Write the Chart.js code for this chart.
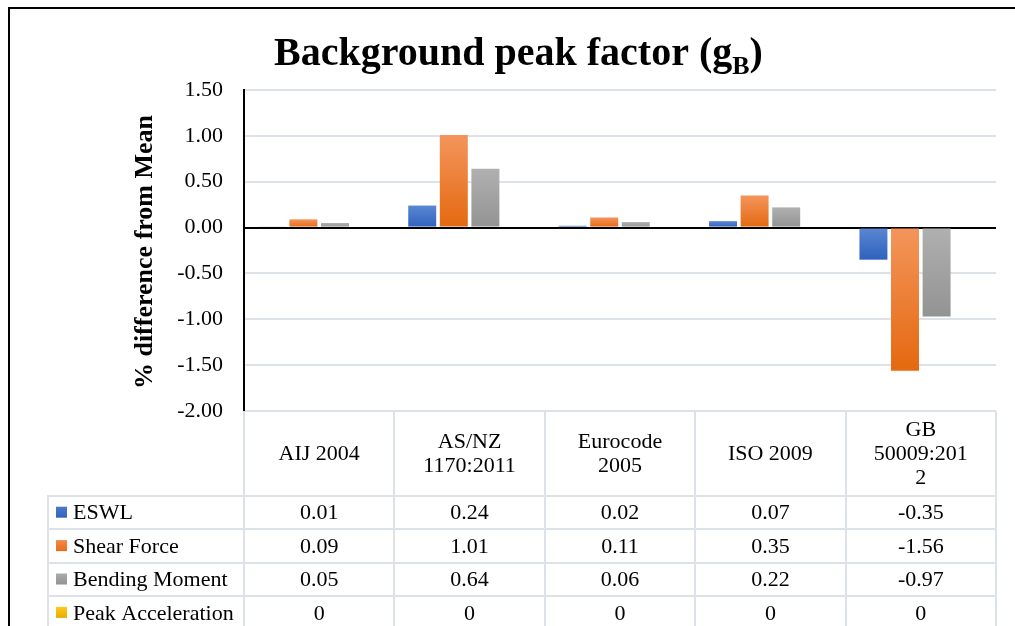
<!DOCTYPE html>
<html>
<head>
<meta charset="utf-8">
<script src="https://cdn.jsdelivr.net/npm/chart.js@4/dist/chart.umd.min.js"></script>
<style>
  html, body { margin: 0; padding: 0; background: #fff; overflow: hidden; }
  canvas { display: block; }
</style>
</head>
<body>
<canvas id="chart" width="1015" height="626"></canvas>
<script>
// Categories (multi-line header labels of the data table)
const categories = [
  ['AIJ 2004'],
  ['AS/NZ', '1170:2011'],
  ['Eurocode', '2005'],
  ['ISO 2009'],
  ['GB', '50009:201', '2']
];

// Series values: % difference from mean
const eswl             = [0.01, 0.24, 0.02, 0.07, -0.35];
const shearForce       = [0.09, 1.01, 0.11, 0.35, -1.56];
const bendingMoment    = [0.05, 0.64, 0.06, 0.22, -0.97];
const peakAcceleration = [0, 0, 0, 0, 0];

// Value axis ticks
const yTicks = [1.5, 1.0, 0.5, 0, -0.5, -1.0, -1.5, -2.0];

const SERIF = "'Liberation Serif', 'Times New Roman', serif";
const GRID = '#dde1e8';

// Vertical gradient per bar: lighter at the top edge, darker at the bottom edge
function barFill(top, bottom) {
  return (c) => {
    const chart = c.chart;
    const y = chart.scales && chart.scales.y;
    if (!y || c.type !== 'data') return bottom;
    const v = c.raw;
    const p1 = y.getPixelForValue(Math.max(v, 0));
    const p2 = y.getPixelForValue(Math.min(v, 0));
    if (!isFinite(p1) || !isFinite(p2) || Math.abs(p2 - p1) < 1) return bottom;
    const g = chart.ctx.createLinearGradient(0, p1, 0, p2);
    g.addColorStop(0, top);
    g.addColorStop(1, bottom);
    return g;
  };
}

const series = [
  { label: 'ESWL',              data: eswl,             top: '#5b87d3', bottom: '#2f62be', key: ['#4a78cc', '#3263bd'] },
  { label: 'Shear Force',       data: shearForce,       top: '#f4955c', bottom: '#e4690f', key: ['#f4894a', '#e86d1a'] },
  { label: 'Bending Moment',    data: bendingMoment,    top: '#b0b0b0', bottom: '#939393', key: ['#ababab', '#939393'] },
  { label: 'Peak Acceleration', data: peakAcceleration, top: '#ffc81a', bottom: '#e6ad00', key: ['#ffc91c', '#e8ac00'] }
];

function fmt(v) {
  return v === 0 ? '0' : v.toFixed(2);
}

// Outer frame, chart title and rotated value-axis title
const decorations = {
  id: 'decorations',
  beforeDraw(chart) {
    const ctx = chart.ctx;
    ctx.save();
    ctx.fillStyle = '#fff';
    ctx.fillRect(0, 0, chart.width, chart.height);
    ctx.restore();
  },
  afterDraw(chart) {
    const ctx = chart.ctx;
    ctx.save();
    // frame
    ctx.strokeStyle = '#000';
    ctx.lineWidth = 2;
    ctx.strokeRect(9, 8, chart.width + 20, chart.height + 20);

    // title with subscript
    const main = 'Background peak factor (g';
    const sub = 'B';
    const close = ')';
    ctx.fillStyle = '#000';
    ctx.textBaseline = 'alphabetic';
    ctx.textAlign = 'left';
    const fMain = 'bold 40px ' + SERIF;
    const fSub = 'bold 26px ' + SERIF;
    ctx.font = fMain;
    const wMain = ctx.measureText(main).width;
    const wClose = ctx.measureText(close).width;
    ctx.font = fSub;
    const wSub = ctx.measureText(sub).width;
    const total = wMain + wSub + wClose;
    let x = 518.5 - total / 2;
    const base = 65;
    ctx.font = fMain;
    ctx.fillText(main, x, base);
    x += wMain;
    ctx.font = fSub;
    ctx.fillText(sub, x, base + 9);
    x += wSub;
    ctx.font = fMain;
    ctx.fillText(close, x, base);

    // value-axis title
    ctx.translate(145, 252);
    ctx.rotate(-Math.PI / 2);
    ctx.font = 'bold 26px ' + SERIF;
    ctx.textAlign = 'center';
    ctx.textBaseline = 'middle';
    ctx.fillText('% difference from Mean', 0, 0);
    ctx.restore();
  }
};

// Data table below the plot: category headers, legend keys and values
const dataTable = {
  id: 'dataTable',
  afterDraw(chart) {
    const ctx = chart.ctx;
    const ca = chart.chartArea;
    const xs = chart.scales.x;
    const n = categories.length;
    const colW = (ca.right - ca.left) / n;
    const headTop = ca.bottom;
    const headBottom = 496;
    const rowH = 33.4;
    const legendLeft = 48;
    const bottom = chart.height + 5;

    ctx.save();
    ctx.strokeStyle = GRID;
    ctx.lineWidth = 2;
    ctx.beginPath();
    for (let k = 0; k <= n; k++) {
      const vx = Math.round(ca.left + k * colW);
      ctx.moveTo(vx, headTop);
      ctx.lineTo(vx, bottom);
    }
    ctx.moveTo(legendLeft, headBottom);
    ctx.lineTo(legendLeft, bottom);
    for (let r = 0; r < series.length; r++) {
      const hy = Math.round(headBottom + r * rowH);
      ctx.moveTo(legendLeft - 1, hy);
      ctx.lineTo(ca.right + 1, hy);
    }
    ctx.stroke();

    ctx.fillStyle = '#000';
    ctx.font = '22px ' + SERIF;
    ctx.textAlign = 'center';
    ctx.textBaseline = 'middle';

    // category headers
    const headMid = (headTop + headBottom) / 2;
    const lh = 24;
    categories.forEach((lines, i) => {
      const cx = xs.getPixelForValue(i);
      const y0 = headMid - (lines.length - 1) * lh / 2;
      lines.forEach((t, j) => ctx.fillText(t, cx, y0 + j * lh + 1));
    });

    // rows
    series.forEach((s, r) => {
      const cy = headBottom + r * rowH + rowH / 2;
      // legend key
      const g = ctx.createLinearGradient(0, cy - 6, 0, cy + 5);
      g.addColorStop(0, s.key[0]);
      g.addColorStop(1, s.key[1]);
      ctx.fillStyle = g;
      ctx.fillRect(56, cy - 6, 11, 11);
      ctx.fillStyle = '#000';
      ctx.textAlign = 'left';
      ctx.fillText(s.label, 73, cy + 1);
      ctx.textAlign = 'center';
      s.data.forEach((v, i) => {
        ctx.fillText(fmt(v), xs.getPixelForValue(i), cy + 1);
      });
    });
    ctx.restore();
  }
};

new Chart(document.getElementById('chart'), {
  type: 'bar',
  data: {
    labels: categories,
    datasets: series.map(s => ({
      label: s.label,
      data: s.data,
      backgroundColor: barFill(s.top, s.bottom),
      borderWidth: 0,
      categoryPercentage: 0.84,
      barPercentage: 0.886
    }))
  },
  options: {
    responsive: false,
    devicePixelRatio: 1,
    animation: false,
    layout: { padding: { top: 90, right: 19, bottom: 215, left: 0 } },
    plugins: {
      legend: { display: false },
      title: { display: false },
      tooltip: { enabled: false }
    },
    scales: {
      x: { display: false },
      y: {
        min: -2,
        max: 1.5,
        afterFit(scale) { scale.width = 244; },
        afterBuildTicks(scale) { scale.ticks = yTicks.map(v => ({ value: v })); },
        ticks: {
          padding: 21,
          color: '#000',
          font: { family: SERIF, size: 22 },
          callback: (v) => Number(v).toFixed(2)
        },
        grid: {
          drawTicks: false,
          color: (c) => (c.tick && c.tick.value === 0 ? '#000' : GRID),
          lineWidth: 2
        },
        border: { display: true, color: '#000', width: 2 }
      }
    }
  },
  plugins: [decorations, dataTable]
});
</script>
</body>
</html>
